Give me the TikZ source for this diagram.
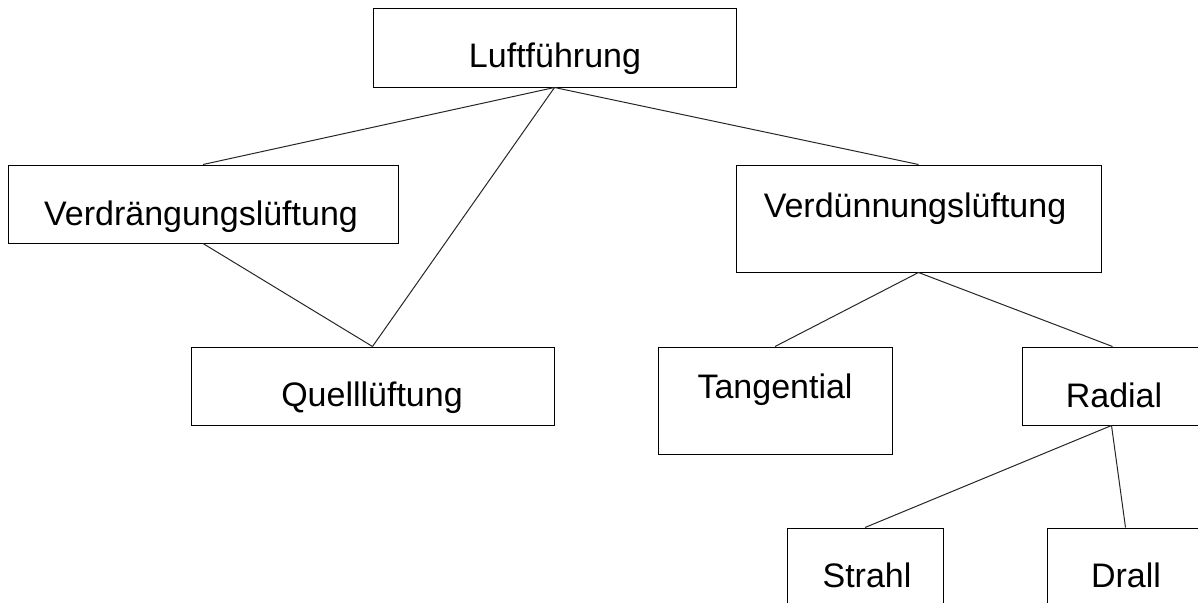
\documentclass[tikz,border=0pt]{standalone}
\usepackage{fontspec}
\setmainfont{Liberation Sans}
\begin{document}
\begin{tikzpicture}[x=1pt,y=-1pt,
  box/.style={draw=black,line width=1pt,rectangle,inner sep=0pt,fill=white},
  txt/.style={anchor=base,inner sep=0pt,font=\fontsize{34}{40}\selectfont},
  conn/.style={draw=black!85,line width=1pt}]
\useasboundingbox (0,0) rectangle (1198,602);
\clip (0,0) rectangle (1198,602);
% boxes
\node[box,minimum width=363pt,minimum height=78pt] (luft) at (554.5,48) {};
\node[box,minimum width=390pt,minimum height=78pt] (verdr) at (203,204) {};
\node[box,minimum width=363pt,minimum height=78pt] (quell) at (372.5,386) {};
\node[box,minimum width=365pt,minimum height=107pt] (verdue) at (918.5,218.5) {};
\node[box,minimum width=234pt,minimum height=107pt] (tang) at (775,400.5) {};
\node[box,minimum width=220pt,minimum height=78pt] (radial) at (1132,386) {};
\node[box,minimum width=156pt,minimum height=112pt] (strahl) at (865,584) {};
\node[box,minimum width=200pt,minimum height=112pt] (drall) at (1147,584) {};
% connectors
\draw[conn] (luft.south) -- (verdr.north);
\draw[conn] (luft.south) -- (quell.north);
\draw[conn] (luft.south) -- (verdue.north);
\draw[conn] (verdr.south) -- (quell.north);
\draw[conn] (verdue.south) -- (tang.north);
\draw[conn] (verdue.south) -- ([xshift=91pt]radial.north west);
\draw[conn] ([xshift=90pt]radial.south west) -- (strahl.north);
\draw[conn] ([xshift=90pt]radial.south west) -- ([xshift=79pt]drall.north west);
% texts
\node[txt] (tluft) at (555,67) {Luftführung};
\node[txt] (tverdr) at (201,225) {Verdrängungslüftung};
\node[txt] (tquell) at (372,406) {Quelllüftung};
\node[txt] (tverdue) at (915,217) {Verdünnungslüftung};
\node[txt] (ttang) at (775,398) {Tangential};
\node[txt] (tradial) at (1114,407) {Radial};
\node[txt] (tstrahl) at (867,587) {Strahl};
\node[txt] (tdrall) at (1126,587) {Drall};
\end{tikzpicture}
\end{document}
